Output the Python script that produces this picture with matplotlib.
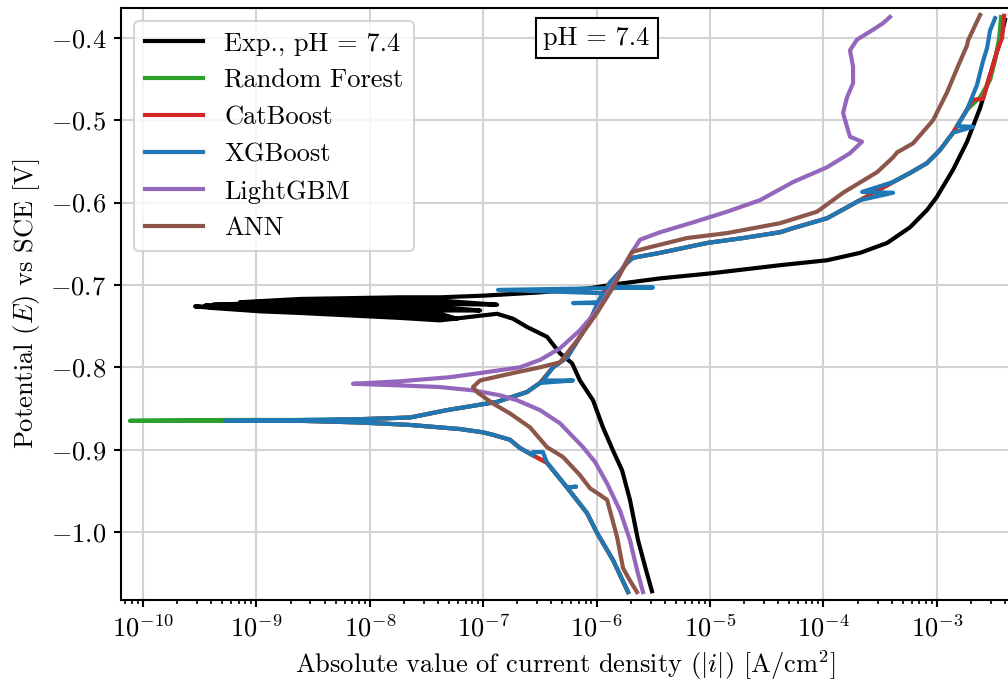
import matplotlib
matplotlib.use("Agg")
import matplotlib.pyplot as plt
import numpy as np

plt.rcParams['font.family'] = 'serif'
plt.rcParams['font.serif'] = ['cmr10']
plt.rcParams['mathtext.fontset'] = 'cm'
plt.rcParams['axes.formatter.use_mathtext'] = True
plt.rcParams['axes.unicode_minus'] = True
plt.rcParams['font.size'] = 12.7

# polarization curves: log10 |i| [A/cm^2] and E [V vs SCE]
# measured curve: cathodic branch, noisy band around E_corr, anodic branch
exp_logi = [-5.512, -5.565, -5.635, -5.706, -5.776, -5.856, -5.944, -6.032, -6.147, -6.217,
            -6.323, -6.437, -6.614, -6.737, -6.878,
            -7.381, -7.734, -8.175, -8.616, -8.968, -9.383, -9.541,
            -9.383, -8.968, -8.616, -8.175, -7.734, -7.231,
            -7.381, -7.734, -8.175, -8.616, -8.968, -9.453,
            -9.383, -8.968, -8.616, -8.175, -7.734, -7.381, -7.028,
            -7.381, -7.734, -8.175, -8.616, -8.968, -9.383,
            -8.968, -8.616, -8.175, -7.734, -7.381, -6.878,
            -7.381, -7.734, -8.175, -8.616, -9.145,
            -8.616, -8.175, -7.734, -7.381, -7.000, -6.499, -6.058,
            -5.882, -5.441, -5.000, -4.383, -3.968, -3.677, -3.439, -3.237, -3.087, -3.000,
            -2.857, -2.734, -2.619, -2.531, -2.443, -2.399]
exp_E = [-1.072, -1.046, -1.010, -0.961, -0.925, -0.901, -0.873, -0.840, -0.816, -0.795,
         -0.783, -0.763, -0.751, -0.741, -0.735,
         -0.743, -0.740, -0.737, -0.734, -0.732, -0.728, -0.726,
         -0.727, -0.730, -0.732, -0.734, -0.736, -0.741,
         -0.735, -0.733, -0.731, -0.729, -0.728, -0.725,
         -0.725, -0.726, -0.727, -0.728, -0.729, -0.731, -0.731,
         -0.727, -0.725, -0.725, -0.724, -0.724, -0.724,
         -0.722, -0.722, -0.722, -0.722, -0.723, -0.724,
         -0.719, -0.718, -0.719, -0.720, -0.721,
         -0.717, -0.716, -0.715, -0.715, -0.713, -0.709, -0.704,
         -0.700, -0.692, -0.686, -0.676, -0.670, -0.661, -0.649, -0.630, -0.609, -0.593,
         -0.560, -0.526, -0.485, -0.445, -0.404, -0.378]

rf_logi = [-5.723, -5.856, -5.997, -6.085, -6.261, -6.437, -6.561, -6.676, -6.764, -6.914,
           -7.002, -7.205, -7.646, -8.086, -8.616, -9.277, -10.115,
           -9.277, -8.616, -8.086, -7.646, -7.319, -6.878, -6.614, -6.499, -6.384, -6.261,
           -6.147, -6.058, -5.988, -5.944, -5.882, -5.794, -5.732, -5.679, -5.441, -5.026,
           -4.709, -4.383, -4.268, -3.968, -3.677, -3.386, -3.237, -3.087, -2.972, -2.857,
           -2.734, -2.619, -2.531, -2.487, -2.451, -2.434]
rf_E = [-1.073, -1.034, -1.001, -0.977, -0.946, -0.916, -0.907, -0.898, -0.888, -0.882,
        -0.879, -0.875, -0.870, -0.867, -0.865, -0.865, -0.865,
        -0.864, -0.864, -0.863, -0.861, -0.852, -0.842, -0.830, -0.819, -0.800, -0.788,
        -0.763, -0.743, -0.722, -0.710, -0.697, -0.684, -0.673, -0.667, -0.661, -0.649,
        -0.643, -0.636, -0.631, -0.619, -0.597, -0.575, -0.564, -0.552, -0.536, -0.515,
        -0.487, -0.472, -0.451, -0.427, -0.400, -0.3745]

cat_logi = [-5.723, -5.856, -5.997, -6.085, -6.261, -6.437, -6.561, -6.676, -6.764, -6.914,
            -7.002, -7.205, -7.646, -8.086, -8.616,
            -8.086, -7.646, -7.319, -6.878, -6.614, -6.499, -6.384, -6.261,
            -6.147, -6.058, -5.988, -5.944, -5.882, -5.794, -5.732, -5.679, -5.441, -5.026,
            -4.709, -4.383, -4.268, -3.968, -3.677, -3.386, -3.237, -3.087, -2.972, -2.857,
            -2.734, -2.681, -2.593, -2.557, -2.504, -2.469, -2.425, -2.407]
cat_E = [-1.073, -1.034, -1.001, -0.977, -0.946, -0.916, -0.907, -0.898, -0.888, -0.882,
         -0.879, -0.875, -0.870, -0.867, -0.865,
         -0.863, -0.861, -0.852, -0.842, -0.830, -0.819, -0.800, -0.788,
         -0.763, -0.743, -0.722, -0.710, -0.697, -0.684, -0.673, -0.667, -0.661, -0.649,
         -0.643, -0.636, -0.631, -0.619, -0.597, -0.575, -0.564, -0.552, -0.536, -0.515,
         -0.487, -0.475, -0.474, -0.457, -0.433, -0.416, -0.400, -0.373]

xgb_logi = [-5.723, -5.856, -5.997, -6.085, -6.261, -6.182, -6.261, -6.437, -6.474, -6.561,
            -6.561, -6.676, -6.764, -6.914, -7.002, -7.205, -7.646, -8.086, -8.616, -9.277,
            -8.616, -8.086, -7.646, -7.319, -6.878, -6.614, -6.499, -6.208, -6.473, -6.384,
            -6.261, -6.147, -6.058, -5.988, -6.208, -5.988, -5.944, -6.869, -5.503, -5.900,
            -5.882, -5.794, -5.732, -5.679, -5.441, -5.026, -4.709, -4.383, -4.268, -3.968,
            -3.677, -3.386, -3.659, -3.386, -3.237, -3.087, -2.972, -2.857, -2.681, -2.822,
            -2.734, -2.646, -2.593, -2.557, -2.531, -2.487]
xgb_E = [-1.073, -1.034, -1.001, -0.977, -0.946, -0.945, -0.946, -0.916, -0.903, -0.903,
         -0.907, -0.898, -0.888, -0.882, -0.879, -0.875, -0.870, -0.867, -0.865, -0.865,
         -0.864, -0.863, -0.861, -0.852, -0.842, -0.830, -0.819, -0.816, -0.816, -0.800,
         -0.788, -0.763, -0.743, -0.722, -0.722, -0.721, -0.710, -0.706, -0.703, -0.702,
         -0.697, -0.684, -0.673, -0.667, -0.661, -0.649, -0.643, -0.636, -0.631, -0.619,
         -0.597, -0.588, -0.587, -0.575, -0.564, -0.552, -0.536, -0.515, -0.508, -0.507,
         -0.487, -0.457, -0.428, -0.412, -0.391, -0.376]

lgbm_logi = [-5.591, -5.644, -5.706, -5.794, -5.908, -6.014, -6.120, -6.323, -6.499, -6.702,
             -6.852, -7.090, -7.381, -7.734, -8.148,
             -7.734, -7.293, -7.028, -6.676, -6.499, -6.323, -6.147, -5.997, -5.882, -5.794,
             -5.732, -5.688, -5.617, -5.441, -5.150, -4.850, -4.559, -4.268, -3.968, -3.766,
             -3.660, -3.766, -3.792, -3.827, -3.792, -3.739, -3.739, -3.766, -3.704, -3.563,
             -3.474, -3.413]
lgbm_E = [-1.073, -1.046, -1.010, -0.974, -0.941, -0.915, -0.897, -0.868, -0.852, -0.840,
          -0.834, -0.828, -0.824, -0.822, -0.820,
          -0.817, -0.812, -0.807, -0.800, -0.791, -0.777, -0.755, -0.731, -0.706, -0.686,
          -0.670, -0.660, -0.645, -0.636, -0.624, -0.611, -0.597, -0.575, -0.557, -0.540,
          -0.526, -0.520, -0.508, -0.491, -0.472, -0.455, -0.435, -0.415, -0.402, -0.390,
          -0.382, -0.3745]

ann_logi = [-5.644, -5.706, -5.767, -5.820, -5.908, -5.970, -6.058, -6.147, -6.296, -6.437,
            -6.587, -6.764, -6.914, -7.055, -7.090,
            -7.028, -6.737, -6.499, -6.323, -6.261, -6.147, -5.997, -5.856, -5.688, -5.556,
            -5.203, -4.850, -4.383, -4.056, -3.827, -3.527, -3.386, -3.351, -3.210, -3.034,
            -2.910, -2.822, -2.734, -2.725, -2.619]
ann_E = [-1.073, -1.059, -1.044, -1.006, -0.961, -0.955, -0.947, -0.931, -0.909, -0.897,
         -0.873, -0.856, -0.844, -0.830, -0.824,
         -0.816, -0.807, -0.800, -0.794, -0.783, -0.763, -0.734, -0.703, -0.660, -0.655,
         -0.643, -0.637, -0.625, -0.611, -0.588, -0.563, -0.545, -0.539, -0.528, -0.500,
         -0.466, -0.437, -0.409, -0.403, -0.372]

series = [
    (exp_logi, exp_E, 'black', 'Exp., pH = 7.4'),
    (rf_logi, rf_E, 'tab:green', 'Random Forest'),
    (cat_logi, cat_E, 'tab:red', 'CatBoost'),
    (xgb_logi, xgb_E, 'tab:blue', 'XGBoost'),
    (lgbm_logi, lgbm_E, 'tab:purple', 'LightGBM'),
    (ann_logi, ann_E, 'tab:brown', 'ANN'),
]

fig = plt.figure(figsize=(6.72, 4.5934), dpi=150)
ax = fig.add_axes([0.1200, 0.1292, 0.8819, 0.8592])

for logi, E, color, label in series:
    ax.plot(10.0 ** np.array(logi), E, color=color, lw=2.0, label=label,
            solid_joinstyle='round')

ax.set_xscale('log')
ax.set_xlim(10 ** -10.194, 10 ** -2.356)
ax.set_ylim(-1.0826, -0.3636)

ax.grid(True, which='major', color='#d3d3d3', lw=1.0)
ax.set_axisbelow(True)
ax.tick_params(which='major', direction='out', length=3.5, width=1)
ax.tick_params(which='minor', direction='out', length=2, width=0.8)
for s in ax.spines.values():
    s.set_linewidth(1.0)

ax.set_xlabel(r'Absolute value of current density ($|i|$) [A/cm$^2$]', labelpad=3)
ax.set_ylabel(r'Potential ($E$) vs SCE [V]', labelpad=4)

ax.text(1e-6, -0.4, 'pH = 7.4', ha='center', va='center',
        bbox=dict(boxstyle='square,pad=0.3', facecolor='white', edgecolor='black', lw=1.0))

ax.legend(loc='upper left', handlelength=2.2)

fig.savefig('out.png', dpi=150)
